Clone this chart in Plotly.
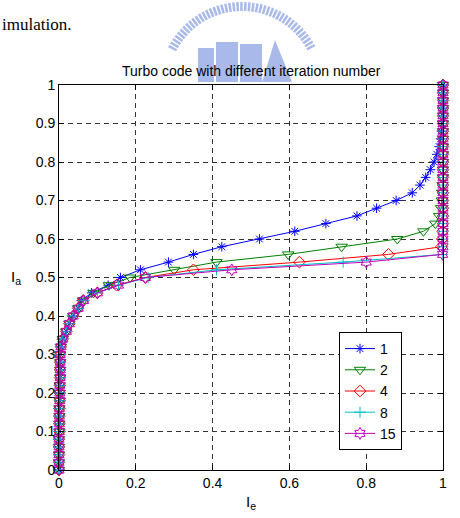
import math
import plotly.graph_objects as go

# ---------------- data ----------------
ia_values = [round(0.02 * i, 2) for i in range(51)]  # I_a sampled 0:0.02:1

common_low = [0.000, 0.000, 0.000, 0.000, 0.000, 0.001, 0.001, 0.001, 0.001, 0.002, 0.002,
              0.002, 0.003, 0.003, 0.003, 0.003, 0.005, 0.010, 0.019, 0.027, 0.037, 0.050]

ie_iter1 = common_low + [0.058, 0.085, 0.128, 0.160, 0.212, 0.285, 0.350, 0.424, 0.522, 0.614,
                         0.695, 0.776, 0.827, 0.878, 0.920, 0.940, 0.955, 0.967, 0.977, 0.984,
                         0.990, 0.994, 0.996, 0.998, 0.999, 0.999, 1.000, 1.000, 1.000]
ie_iter2 = common_low + [0.062, 0.090, 0.130, 0.185, 0.300, 0.410, 0.597, 0.736, 0.881, 0.949,
                         0.980, 0.990, 0.995, 0.997, 0.998, 0.999] + [1.000] * 13
ie_iter4 = common_low + [0.063, 0.100, 0.150, 0.225, 0.350, 0.626, 0.858, 0.996, 0.998, 0.999] + [1.000] * 19
ie_iter8 = common_low + [0.064, 0.100, 0.155, 0.232, 0.410, 0.740, 0.998, 0.999] + [1.000] * 21
ie_iter15 = common_low + [0.064, 0.100, 0.155, 0.225, 0.450, 0.800, 0.999] + [1.000] * 22

series_names = ["1", "2", "4", "8", "15"]
series_values = [ie_iter1, ie_iter2, ie_iter4, ie_iter8, ie_iter15]
series_colors = ["#0000FF", "#008000", "#FF0000", "#00BFBF", "#BF00BF"]
series_symbols = ["asterisk-open", "triangle-down-open", "diamond-open", "cross-thin-open", "hexagram-open"]
series_sizes = [8, 10, 9, 8, 9]

tick_vals = [0, 0.2, 0.4, 0.6, 0.8, 1.0]
tick_text = ["0", "0.2", "0.4", "0.6", "0.8", "1"]
ytick_vals = [round(0.1 * i, 1) for i in range(11)]
ytick_text = ["0", "0.1", "0.2", "0.3", "0.4", "0.5", "0.6", "0.7", "0.8", "0.9", "1"]

# ---------------- figure ----------------
W, H = 460, 518
L, R, T, B = 59, 17, 85, 48
PW, PH = W - L - R, H - T - B


def px(x):
    return (x - L) / PW


def py(y):
    return (H - B - y) / PH


fig = go.Figure()
for name, vals, col, sym, sz in zip(series_names, series_values, series_colors, series_symbols, series_sizes):
    fig.add_trace(go.Scatter(
        x=vals, y=ia_values, name=name, mode="lines+markers",
        line=dict(color=col, width=1),
        marker=dict(symbol=sym, size=sz, color=col, line=dict(color=col, width=1)),
        cliponaxis=False,
    ))

axis_common = dict(
    range=[0, 1], showline=True, linecolor="black", linewidth=1, mirror="ticks",
    ticks="inside", ticklen=5, tickcolor="black", showgrid=True, gridcolor="#333333",
    griddash="5px,4px", gridwidth=0.8, zeroline=False,
    tickfont=dict(family="Arial, Liberation Sans", size=14, color="black"),
)
fig.update_xaxes(tickvals=tick_vals, ticktext=tick_text, **axis_common)
fig.update_yaxes(tickvals=ytick_vals, ticktext=ytick_text, **axis_common)

# logo watermark (decorative, light blue)
logo = "#A9BAEA"
shapes = []
cx, cy, rad = 242, 85, 83
for k in range(46):
    ang = math.radians(152 - k * 2.8)
    if ang < math.radians(28):
        break
    x0, y0 = cx + (rad - 9) * math.cos(ang), cy - (rad - 9) * math.sin(ang)
    x1, y1 = cx + rad * math.cos(ang), cy - rad * math.sin(ang)
    if max(y0, y1) < 80:
        shapes.append(dict(type="line", xref="paper", yref="paper", x0=px(x0), y0=py(y0),
                           x1=px(x1), y1=py(y1), line=dict(color=logo, width=2.5), layer="below"))
for (a, b, c, d) in [(198, 48, 214, 82), (216, 42, 238, 82), (240, 44, 262, 82)]:
    shapes.append(dict(type="rect", xref="paper", yref="paper", x0=px(a), x1=px(c), y0=py(d), y1=py(b),
                       fillcolor=logo, line=dict(width=0), layer="below"))
shapes.append(dict(type="path", xref="paper", yref="paper",
                   path=f"M {px(262)} {py(82)} L {px(275)} {py(40)} L {px(292)} {py(82)} Z",
                   fillcolor=logo, line=dict(width=0), layer="below"))

annotations = [
    dict(text="Turbo code with different iteration number", xref="paper", yref="paper",
         x=0.5, y=py(71), showarrow=False, xanchor="center", yanchor="middle",
         font=dict(family="Arial, Liberation Sans", size=14, color="black")),
    dict(text="I<sub>a</sub>", xref="paper", yref="paper", x=px(16), y=py(277), showarrow=False,
         xanchor="center", yanchor="middle",
         font=dict(family="Arial, Liberation Sans", size=15, color="black")),
    dict(text="I<sub>e</sub>", xref="paper", yref="paper", x=0.5, y=py(503), showarrow=False,
         xanchor="center", yanchor="middle",
         font=dict(family="Arial, Liberation Sans", size=15, color="black")),
    dict(text="imulation.", xref="paper", yref="paper", x=px(0), y=py(25), showarrow=False,
         xanchor="left", yanchor="middle",
         font=dict(family="Liberation Serif, Times New Roman", size=17, color="black")),
]

fig.update_layout(
    width=W, height=H, margin=dict(l=L, r=R, t=T, b=B),
    paper_bgcolor="white", plot_bgcolor="rgba(0,0,0,0)",
    showlegend=True,
    legend=dict(x=px(339), y=py(332), xanchor="left", yanchor="top",
                bgcolor="white", bordercolor="black", borderwidth=1,
                font=dict(family="Arial, Liberation Sans", size=14, color="black"),
                tracegroupgap=0, itemwidth=30),
    shapes=shapes, annotations=annotations,
)

fig.write_html("out.html")
